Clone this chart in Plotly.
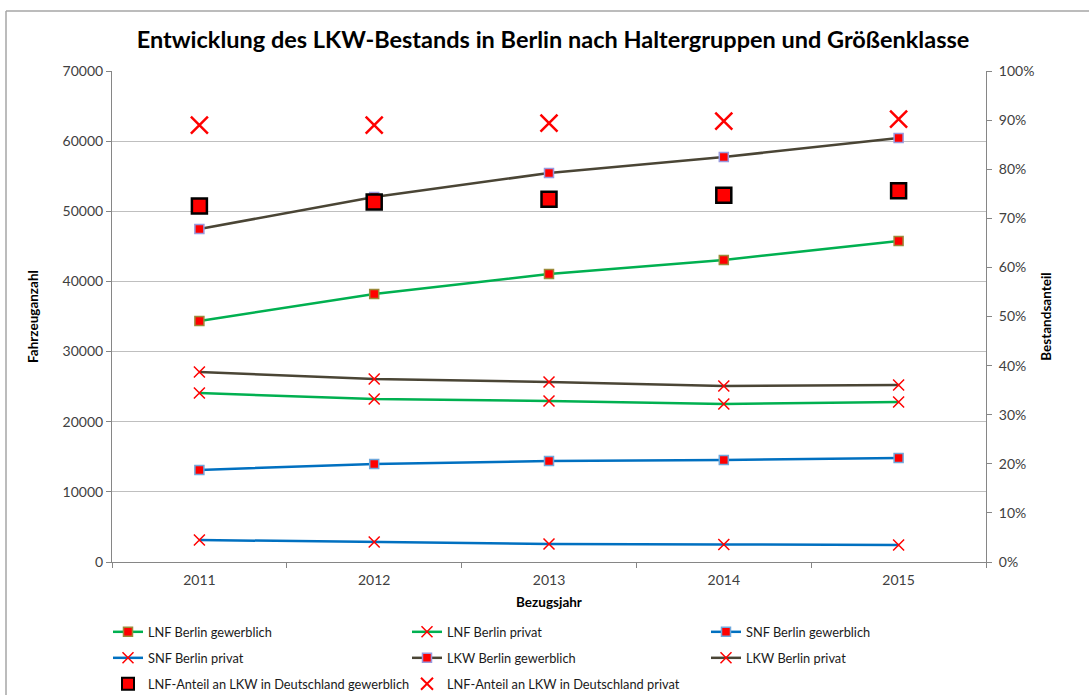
import plotly.graph_objects as go

years = ["2011", "2012", "2013", "2014", "2015"]
lnf_gew = [34360, 38210, 41060, 43060, 45770]
lnf_priv = [24090, 23240, 22950, 22530, 22810]
snf_gew = [13120, 13970, 14400, 14540, 14830]
snf_priv = [3140, 2850, 2570, 2500, 2420]
lkw_gew = [47480, 52040, 55460, 57740, 60450]
lkw_priv = [27090, 26090, 25660, 25090, 25240]
anteil_gew = [0.725, 0.733, 0.739, 0.747, 0.756]
anteil_priv = [0.890, 0.890, 0.894, 0.898, 0.902]

GREEN = "#00B050"
BLUE = "#0070C0"
DARK = "#4A4535"
RED = "#FF0000"
FONT = "Lato"

fig = go.Figure()

def sq(border):
    return dict(symbol="square", size=9, color=RED, line=dict(color=border, width=1.5))

xm = dict(symbol="x-thin", size=11, color=RED, line=dict(color=RED, width=1.5))

fig.add_trace(go.Scatter(x=years, y=lnf_gew, name="LNF Berlin gewerblich", mode="lines+markers",
                         line=dict(color=GREEN, width=2.5), marker=sq("#9C8A3A"), legend="legend"))
fig.add_trace(go.Scatter(x=years, y=lnf_priv, name="LNF Berlin privat", mode="lines+markers",
                         line=dict(color=GREEN, width=2.5), marker=xm, legend="legend"))
fig.add_trace(go.Scatter(x=years, y=snf_gew, name="SNF Berlin gewerblich", mode="lines+markers",
                         line=dict(color=BLUE, width=2.5), marker=sq("#6FA8DC"), legend="legend"))
fig.add_trace(go.Scatter(x=years, y=snf_priv, name="SNF Berlin privat", mode="lines+markers",
                         line=dict(color=BLUE, width=2.5), marker=xm, legend="legend2"))
fig.add_trace(go.Scatter(x=years, y=lkw_gew, name="LKW Berlin gewerblich", mode="lines+markers",
                         line=dict(color=DARK, width=2.5), marker=sq("#9999DD"), legend="legend2"))
fig.add_trace(go.Scatter(x=years, y=lkw_priv, name="LKW Berlin privat", mode="lines+markers",
                         line=dict(color=DARK, width=2.5), marker=xm, legend="legend2"))
fig.add_trace(go.Scatter(x=years, y=anteil_gew, name="LNF-Anteil an LKW in Deutschland gewerblich",
                         mode="markers", yaxis="y2",
                         marker=dict(symbol="square", size=15, color=RED, line=dict(color="black", width=2.5)),
                         legend="legend3"))
fig.add_trace(go.Scatter(x=years, y=anteil_priv, name="LNF-Anteil an LKW in Deutschland privat",
                         mode="markers", yaxis="y2",
                         marker=dict(symbol="x-thin", size=17, color=RED, line=dict(color=RED, width=2.5)),
                         legend="legend3"))

W, H = 1089, 695
L, R, T, B = 112, 986, 71, 562
pw, ph = R - L, B - T

def py(ypix):
    return (B - ypix) / ph

def px(xpix):
    return (xpix - L) / pw

leg_common = dict(orientation="h", xanchor="left", yanchor="middle", x=px(108),
                  entrywidth=254, entrywidthmode="pixels",
                  font=dict(family=FONT, size=12.8, color="#1a1a1a"), bgcolor="rgba(0,0,0,0)")

tickfont = dict(family=FONT, size=14, color="#404040")
axline = "#868686"
titlefont = dict(family=FONT, size=13.5, color="#000")

fig.update_layout(
    width=W, height=H,
    margin=dict(l=L, r=W - R, t=T, b=H - B, autoexpand=False),
    paper_bgcolor="white", plot_bgcolor="white",
    title=dict(text="<b>Entwicklung des LKW-Bestands in Berlin nach Haltergruppen und Größenklasse</b>",
               x=(553) / W, xanchor="center", y=1 - 40 / H, yanchor="middle",
               font=dict(family=FONT, size=23.5, color="#000000")),
    xaxis=dict(type="category", range=[-0.5, 4.5], showgrid=False, showline=True, linecolor=axline,
               linewidth=1, ticks="outside", tickson="boundaries", ticklen=5, tickcolor=axline,
               tickfont=tickfont, automargin=False, ticklabelstandoff=5,
               title=dict(text="<b>Bezugsjahr</b>", font=titlefont, standoff=10)),
    yaxis=dict(range=[0, 70000], dtick=10000, tickformat="d", showgrid=True, gridcolor="#BFBFBF",
               gridwidth=1, showline=True, linecolor=axline, ticks="outside", ticklen=5, tickcolor=axline,
               tickfont=tickfont, zeroline=False, automargin=False,
               title=dict(text="<b>Fahrzeuganzahl</b>", font=titlefont, standoff=20)),
    yaxis2=dict(range=[0, 1], dtick=0.1, tickformat=".0%", overlaying="y", side="right", showgrid=False,
                showline=True, linecolor=axline, ticks="outside", ticklen=5, tickcolor=axline,
                tickfont=tickfont, zeroline=False, automargin=False, ticklabelstandoff=4,
                title=dict(text="<b>Bestandsanteil</b>", font=titlefont, standoff=8)),
    legend=dict(y=py(632), **leg_common),
    legend2=dict(y=py(658), **leg_common),
    legend3=dict(y=py(684), itemsizing="constant", **leg_common),
    showlegend=True,
)

# outer chart frame (left and top edges visible in the reference)
fig.add_shape(type="line", xref="paper", yref="paper",
              x0=px(6), x1=px(6), y0=py(H), y1=py(11),
              line=dict(color="#A6A6A6", width=1.5), layer="below")
fig.add_shape(type="line", xref="paper", yref="paper",
              x0=px(6), x1=px(W), y0=py(11), y1=py(11),
              line=dict(color="#A6A6A6", width=1.5), layer="below")

fig.write_html("out.html", config={"displayModeBar": False},
               post_script="document.body.style.margin='0px';")
